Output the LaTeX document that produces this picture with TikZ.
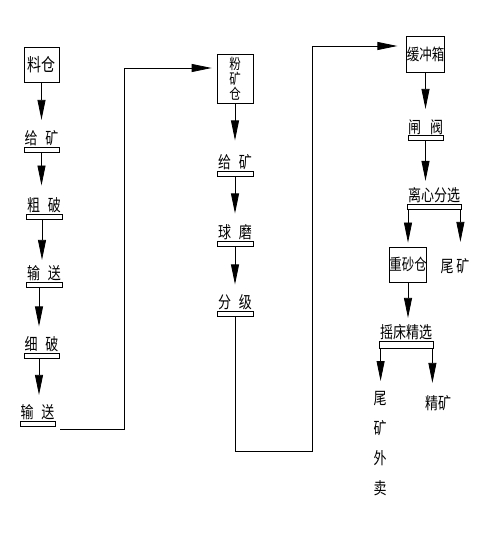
\documentclass[tikz,border=0pt]{standalone}
\usepackage{fontspec}
\usepackage{graphicx}
\newfontfamily\cjk{Noto Sans CJK SC}
\newcommand\vstr[1]{\scalebox{1}[1.28]{#1}}
\usetikzlibrary{arrows.meta}
\begin{document}
\begin{tikzpicture}[x=1pt,y=-1pt, line width=0.8pt,
  box/.style={draw, inner sep=0, font=\cjk\fontsize{12.5}{15}\selectfont},
  bar/.style={draw, inner sep=0, minimum width=35pt, minimum height=5pt},
  lbl/.style={inner sep=0, font=\cjk\fontsize{13}{15}\selectfont},
  arr/.style={-{Triangle[length=20pt,width=8pt]}},
]
\useasboundingbox (0,0) rectangle (489,534);

% ---------- left column ----------
\node[box, minimum width=35pt, minimum height=35pt, font=\cjk\fontsize{14}{15}\selectfont] (b1) at (41.5,64.5) {\vstr{料仓}};
\node[bar] (b2) at (41.5,149.5) {};
\node[lbl, anchor=south] (t2) at ([yshift=0.5pt]b2.north) {\vstr{给\hspace{8pt}矿}};
\node[bar, minimum width=36pt] (b3) at (44,217) {};
\node[lbl, anchor=south] (t3) at ([yshift=0.5pt]b3.north) {\vstr{粗\hspace{8pt}破}};
\node[bar, minimum width=36pt] (b4) at (44,284.5) {};
\node[lbl, anchor=south] (t4) at ([yshift=0.5pt]b4.north) {\vstr{输\hspace{8pt}送}};
\node[bar] (b5) at (41.5,356) {};
\node[lbl, anchor=south] (t5) at ([yshift=0.5pt]b5.north) {\vstr{细\hspace{8pt}破}};
\node[bar] (b6) at (37.5,423.5) {};
\node[lbl, anchor=south] (t6) at ([yshift=0.5pt]b6.north) {\vstr{输\hspace{8pt}送}};

\draw[arr, shorten >=10pt] (b1.south) -- (b1.south |- t2.north);
\draw[arr, shorten >=12pt] (b2.south) -- (b2.south |- t3.north);
\draw[arr, shorten >=5pt] ([xshift=-2pt]b3.south) -- ([xshift=-2pt]b3.south |- t4.north);
\draw[arr, shorten >=10pt] ([xshift=-5pt]b4.south) -- ([xshift=-5pt]b4.south |- t5.north);
\draw[arr, shorten >=9pt] ([xshift=-2.5pt]b5.south) -- ([xshift=-2.5pt]b5.south |- t6.north);

% ---------- middle column ----------
\node[box, minimum width=36pt, minimum height=49pt, align=center, font=\cjk\fontsize{11.5}{15}\selectfont] (m1) at (235,78.5) {\vstr{粉}\\\vstr{矿}\\\vstr{仓}};
\node[bar, minimum width=36pt] (m2) at (235,174) {};
\node[lbl, anchor=south] (tm2) at ([yshift=0.5pt]m2.north) {\vstr{给\hspace{8pt}矿}};
\node[bar, minimum width=36pt] (m3) at (235,244) {};
\node[lbl, anchor=south] (tm3) at ([yshift=0.5pt]m3.north) {\vstr{球\hspace{8pt}磨}};
\node[bar, minimum width=36pt] (m4) at (235,314) {};
\node[lbl, anchor=south] (tm4) at ([yshift=0.5pt]m4.north) {\vstr{分\hspace{8pt}级}};

\draw[arr, shorten >=14pt] (m1.south) -- (m1.south |- tm2.north);
\draw[arr, shorten >=11pt] (m2.south) -- (m2.south |- tm3.north);
\draw[arr, shorten >=10pt] (m3.south) -- (m3.south |- tm4.north);

% ---------- right column ----------
\node[box, minimum width=37pt, minimum height=36pt] (r1) at (425.5,54) {\vstr{缓冲箱}};
\node[bar, minimum height=4.5pt] (r2) at (425.5,138) {};
\node[lbl, anchor=south] (tr2) at ([yshift=0.5pt]r2.north) {\vstr{闸\hspace{9pt}阀}};
\node[bar, minimum width=54pt] (r3) at (434,206.5) {};
\node[lbl, anchor=south] (tr3) at ([yshift=0.5pt]r3.north) {\vstr{离心分选}};
\node[box, minimum width=36pt, minimum height=35pt] (r4) at (408,264.5) {\vstr{重砂仓}};
\node[lbl] (wk) at (455,266) {\vstr{尾\hspace{3pt}矿}};
\node[bar, minimum width=54pt, minimum height=7pt] (r5) at (406,344.5) {};
\node[lbl, anchor=south] (tr5) at ([yshift=0.5pt]r5.north) {\vstr{摇床精选}};
\node[lbl, align=center, font=\cjk\fontsize{13}{30}\selectfont, anchor=north] (wm) at (380,391) {\vstr{尾}\\\vstr{矿}\\\vstr{外}\\\vstr{卖}};
\node[lbl] (jk) at (438,403) {\vstr{精矿}};

\draw[arr, shorten >=10pt] (r1.south) -- (r1.south |- tr2.north);
\draw[arr, shorten >=6pt] (r2.south) -- (r2.south |- tr3.north);
\draw[arr, shorten >=4pt] (r4.north |- r3.south) -- (r4.north);
\draw[arr, shorten >=16pt] ([xshift=-1pt]r3.south east) -- ([xshift=-1pt]r3.south east |- wk.north);
\draw[arr, shorten >=6pt] (r4.south) -- (r4.south |- tr5.north);
\draw[arr, shorten >=10pt] ([xshift=2pt]r5.south west) -- ([xshift=2pt]r5.south west |- wm.north);
\draw[arr, shorten >=12pt] ([xshift=-1pt]r5.south east) -- ([xshift=-1pt]r5.south east |- jk.north);

% ---------- long connectors ----------
\coordinate (j1) at (124,68);
\coordinate (j2) at (312,451);
\coordinate (j3) at (312,46);
\draw[arr, shorten >=5pt] ([xshift=5pt,yshift=-3pt]b6.south east) -| (j1) -- (j1 -| m1.west);
\draw[arr, shorten >=9pt] (m4.south) |- (j2) -- (j3) -- (j3 -| r1.west);
\end{tikzpicture}
\end{document}
